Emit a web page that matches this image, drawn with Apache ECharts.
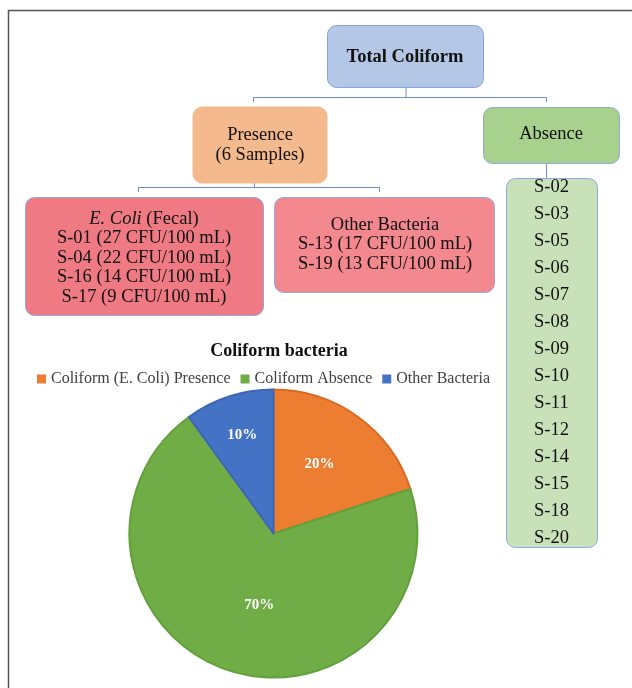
<!DOCTYPE html>
<html lang="en">
<head>
    <meta charset="UTF-8">
    <title>Total Coliform</title>
    <script src="https://cdn.jsdelivr.net/npm/echarts@6/dist/echarts.min.js"></script>
    <style>
        * { margin: 0; padding: 0; box-sizing: border-box; }
        body { background: #fff; }
        #chart { width: 632px; height: 688px; }
    </style>
</head>
<body>
    <div id="chart"></div>
    <script>
        // diagram text
        const rootLabel = 'Total Coliform';
        const presenceLines = ['Presence', '(6 Samples)'];
        const absenceLabel = 'Absence';
        const ecoliIds = ['S-01', 'S-04', 'S-16', 'S-17'];
        const ecoliCfu = [27, 22, 14, 9];
        const otherIds = ['S-13', 'S-19'];
        const otherCfu = [17, 13];
        const absentIds = ['S-02', 'S-03', 'S-05', 'S-06', 'S-07', 'S-08', 'S-09',
                           'S-10', 'S-11', 'S-12', 'S-14', 'S-15', 'S-18', 'S-20'];

        // pie data
        const pieTitle = 'Coliform bacteria';
        const pieCategories = ['Coliform (E. Coli) Presence', 'Coliform Absence', 'Other Bacteria'];
        const pieValues = [20, 70, 10];

        const serif = '"Liberation Serif", "DejaVu Serif", serif';
        const font = '18.5px ' + serif;
        const lineColor = '#6F8FCF';
        const pieColors = ['#ED7D31', '#70AD47', '#4472C4'];
        const pieBorders = ['#D96A22', '#62A03C', '#3C66B4'];
        const labelOffsets = [[2, -9], [9, 0], [-8, -27]];

        function box(x, y, w, h, fill, stroke) {
            return { type: 'rect', shape: { x: x, y: y, width: w, height: h, r: 9 },
                     style: { fill: fill, stroke: stroke, lineWidth: 1 } };
        }
        function txt(s, x, y, extra) {
            return { type: 'text', style: Object.assign({ text: s, x: x, y: y, align: 'center',
                     verticalAlign: 'middle', font: font, fill: '#111' }, extra || {}) };
        }
        function line(x1, y1, x2, y2) {
            return { type: 'line', shape: { x1: x1, y1: y1, x2: x2, y2: y2 },
                     style: { stroke: lineColor, lineWidth: 1 } };
        }

        const g = [];
        g.push({ type: 'rect', shape: { x: 8.5, y: 10.5, width: 700, height: 700 },
                 style: { fill: 'none', stroke: '#555', lineWidth: 1.5 } });
        // connectors
        g.push(line(406, 87, 406, 97), line(253.5, 97.5, 546.5, 97.5),
               line(253.5, 97, 253.5, 102), line(546.5, 97, 546.5, 102));
        g.push(line(254.5, 183, 254.5, 187.5), line(138.5, 187.5, 379.5, 187.5),
               line(138.5, 187, 138.5, 192), line(379.5, 187, 379.5, 192));
        g.push(line(546.5, 163, 546.5, 178));

        g.push(box(327.5, 25.5, 156, 62, '#B4C7E7', '#86A3DA'));
        g.push(txt(rootLabel, 405, 57, { font: 'bold ' + font }));

        g.push(box(193, 107, 134, 76, '#F4B98C', '#F4B98C'));
        presenceLines.forEach((s, i) => g.push(txt(s, 260, 135 + i * 20)));

        g.push(box(483.5, 107.5, 136, 56, '#A9D18E', '#8FAADC'));
        g.push(txt(absenceLabel, 551, 134));

        g.push(box(25.5, 197.5, 238, 118, '#F07A83', '#8FAADC'));
        g.push(txt('{i|E. Coli} (Fecal)', 144, 219, {
            rich: { i: { fontStyle: 'italic', fontSize: 18.5, fontFamily: serif, fill: '#111' } }
        }));
        ecoliIds.forEach((id, i) => g.push(txt(id + ' (' + ecoliCfu[i] + ' CFU/100 mL)', 144, 238.5 + i * 19.5)));

        g.push(box(274.5, 197.5, 220, 95, '#F3888F', '#8FAADC'));
        g.push(txt('Other Bacteria', 385, 225));
        otherIds.forEach((id, i) => g.push(txt(id + ' (' + otherCfu[i] + ' CFU/100 mL)', 385, 244.5 + i * 19.5)));

        g.push(box(506.5, 178.5, 91, 369, '#C8E1B8', '#8FAADC'));
        absentIds.forEach((id, i) => g.push(txt(id, 551.5, 187 + i * 27)));

        const chart = echarts.init(document.getElementById('chart'));
        chart.setOption({
            animation: false,
            title: {
                text: pieTitle, left: 274, top: 337, textAlign: 'center',
                textStyle: { fontFamily: serif, fontSize: 18, fontWeight: 'bold', color: '#111' }
            },
            legend: {
                data: pieCategories, left: 32, top: 366, itemWidth: 9, itemHeight: 9, itemGap: 10,
                icon: 'rect', itemStyle: { borderWidth: 0 },
                textStyle: { fontFamily: serif, fontSize: 16, color: '#404040' },
                selectedMode: false
            },
            graphic: g,
            series: [{
                type: 'pie', center: [273.5, 533.5], radius: 144, startAngle: 90, clockwise: true,
                silent: true,
                label: { position: 'inside', formatter: '{c}%', color: '#fff', fontFamily: serif,
                         fontSize: 15, fontWeight: 'bold' },
                labelLine: { show: false },
                data: pieCategories.map((name, i) => ({
                    name: name, value: pieValues[i],
                    itemStyle: { color: pieColors[i], borderColor: pieBorders[i], borderWidth: 2 },
                    label: { offset: labelOffsets[i] }
                }))
            }]
        });
    </script>
</body>
</html>
